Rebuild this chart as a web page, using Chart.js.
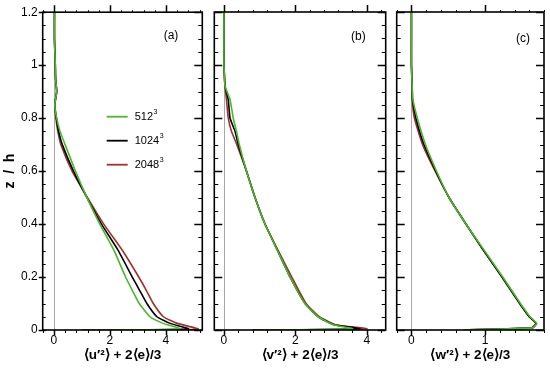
<!DOCTYPE html>
<html><head><meta charset="utf-8">
<script src="https://cdn.jsdelivr.net/npm/chart.js@4"></script>
<style>
html,body{margin:0;padding:0;background:#fff;}
#wrap{position:relative;width:550px;height:373px;overflow:hidden;}
canvas{position:absolute;top:0;}
</style></head><body>
<div id="wrap">
<canvas id="ca" width="210" height="373" style="left:0px;width:210px;height:373px"></canvas>
<canvas id="cb" width="185" height="373" style="left:205px;width:185px;height:373px"></canvas>
<canvas id="cc" width="160" height="373" style="left:390px;width:160px;height:373px"></canvas>
</div>
<script>
// ---- data ----
const seriesNames = ['512', '1024', '2048'];
const seriesColors = ['#48b82c', '#000000', '#a3302a'];
const yTicks = [0, 0.2, 0.4, 0.6, 0.8, 1, 1.2];
const xTicksU = [0, 2, 4];
const xTicksV = [0, 2, 4];
const xTicksW = [0, 1];

const zU = [0, 0.004, 0.025, 0.05, 0.1, 0.15, 0.2, 0.3, 0.4, 0.5, 0.6, 0.7, 0.75, 0.8, 0.85, 0.9, 0.95, 1.0, 1.1, 1.2];
const u512 = [1.0, 4.5, 3.9, 3.43, 3.05, 2.8, 2.56, 2.15, 1.64, 1.18, 0.77, 0.4, 0.22, 0.1, 0.03, 0.1, 0.06, 0.05, 0.02, 0.02];
const u1024 = [1.0, 4.8, 4.15, 3.68, 3.32, 3.06, 2.8, 2.3, 1.7, 1.18, 0.70, 0.3, 0.17, 0.09, 0.03, 0.1, 0.06, 0.05, 0.02, 0.02];
const u2048 = [1.0, 5.15, 4.4, 3.91, 3.55, 3.3, 3.03, 2.45, 1.78, 1.2, 0.65, 0.25, 0.14, 0.07, 0.03, 0.1, 0.06, 0.05, 0.02, 0.02];

const zV = [0, 0.005, 0.02, 0.05, 0.1, 0.2, 0.3, 0.4, 0.5, 0.6, 0.7, 0.75, 0.8, 0.87, 0.92, 0.97, 1.0, 1.1, 1.2];
const v512 = [0.8, 3.6, 3.06, 2.64, 2.27, 1.85, 1.5, 1.15, 0.87, 0.63, 0.43, 0.35, 0.26, 0.17, 0.03, 0.01, 0.0, 0.0, 0.0];
const v1024 = [0.8, 3.8, 3.08, 2.64, 2.27, 1.85, 1.5, 1.15, 0.87, 0.63, 0.40, 0.31, 0.17, 0.12, 0.03, 0.01, 0.0, 0.0, 0.0];
const v2048 = [0.8, 4.0, 3.12, 2.67, 2.3, 1.9, 1.52, 1.15, 0.87, 0.63, 0.36, 0.21, 0.12, 0.07, 0.03, 0.01, 0.0, 0.0, 0.0];

const zW = [0, 0.008, 0.025, 0.05, 0.1, 0.2, 0.3, 0.4, 0.5, 0.6, 0.7, 0.8, 0.87, 0.92, 1.0, 1.1, 1.2];
const w512 = [0.71, 1.64, 1.7, 1.61, 1.48, 1.24, 0.99, 0.74, 0.51, 0.34, 0.19, 0.08, 0.02, 0.01, 0.0, 0.0, 0.0];
const w1024 = [0.71, 1.63, 1.69, 1.60, 1.47, 1.23, 0.98, 0.74, 0.51, 0.33, 0.17, 0.06, 0.015, 0.01, 0.0, 0.0, 0.0];
const w2048 = [0.71, 1.65, 1.70, 1.60, 1.47, 1.23, 0.98, 0.74, 0.51, 0.32, 0.15, 0.04, 0.01, 0.01, 0.0, 0.0, 0.0];

// ---- helpers ----
const FONT = "'Liberation Sans', Arial, Helvetica, sans-serif";

const panelPlugin = {
  id: 'panel',
  beforeDatasetsDraw(chart) {
    const {ctx, chartArea: a, scales: {x}} = chart;
    const px = Math.round(x.getPixelForValue(0)) + 0.5;
    ctx.save();
    ctx.strokeStyle = '#a8a8a8'; ctx.lineWidth = 1;
    ctx.beginPath(); ctx.moveTo(px, a.top); ctx.lineTo(px, a.bottom); ctx.stroke();
    ctx.restore();
  },
  afterDraw(chart) {
    const o = chart.options.plugins.panel;
    const {ctx, chartArea: a, scales: {x, y}} = chart;
    ctx.save();
    ctx.strokeStyle = '#000';
    const xmin = x.min, xmax = x.max;
    const eps = 1e-6;
    for (let v = o.minorStart; v <= xmax + eps; v += o.minorStep) {
      const vv = Math.round(v * 1000) / 1000;
      if (vv < xmin - eps) continue;
      const isMajor = o.majors.some(m => Math.abs(m - vv) < eps);
      const p = Math.round(x.getPixelForValue(vv)) + 0.5;
      const lenB = isMajor ? 5 : 3, lenT = isMajor ? 7 : 2;
      ctx.lineWidth = isMajor ? 1.5 : 1;
      ctx.beginPath();
      ctx.moveTo(p, a.bottom); ctx.lineTo(p, a.bottom + lenB);
      ctx.moveTo(p, a.top); ctx.lineTo(p, a.top - lenT);
      ctx.stroke();
    }
    for (let i = 0; i <= 24; i++) {
      const v = i * 0.05;
      const isMajor = i % 4 === 0;
      const p = Math.round(y.getPixelForValue(v)) + 0.5;
      ctx.lineWidth = isMajor ? 1.5 : 1;
      ctx.beginPath();
      if (o.outerLeft) {
        if (isMajor) { ctx.moveTo(a.left - 4, p); ctx.lineTo(a.left + 3, p); }
        else { ctx.moveTo(a.left, p); ctx.lineTo(a.left + 3, p); }
      } else {
        ctx.moveTo(a.left, p); ctx.lineTo(a.left + (isMajor ? 8 : 4), p);
      }
      ctx.moveTo(a.right, p); ctx.lineTo(a.right - (isMajor ? 8 : 4), p);
      ctx.stroke();
    }
    ctx.lineWidth = 1.6;
    ctx.strokeRect(a.left, a.top, a.right - a.left, a.bottom - a.top);
    ctx.fillStyle = '#000';
    ctx.font = '12px ' + FONT;
    ctx.textAlign = 'right'; ctx.textBaseline = 'middle';
    ctx.fillText(o.label, a.right - o.labelDx, a.top + o.labelDy);
    if (o.legend) {
      chart.data.datasets.forEach((ds, i) => {
        const ly = a.top + 104 + i * 24;
        const lx = a.left + 64;
        ctx.strokeStyle = ds.borderColor; ctx.lineWidth = 1.8;
        ctx.beginPath(); ctx.moveTo(lx, ly + 0.5); ctx.lineTo(lx + 21, ly + 0.5); ctx.stroke();
        ctx.fillStyle = '#000';
        ctx.textAlign = 'left'; ctx.textBaseline = 'middle';
        ctx.font = '11px ' + FONT;
        ctx.fillText(ds.label, lx + 28, ly + 1);
        const w = ctx.measureText(ds.label).width;
        ctx.font = '7px ' + FONT;
        ctx.fillText('3', lx + 28 + w + 0.5, ly - 4);
      });
    }
    ctx.restore();
  }
};

function buildDatasets(zs, cols) {
  return cols.map((xs, i) => ({
    label: seriesNames[i],
    data: xs.map((xv, k) => ({x: xv, y: zs[k]})),
    borderColor: seriesColors[i],
    backgroundColor: seriesColors[i],
    borderWidth: 1.6,
    pointRadius: 0,
    showLine: true,
    tension: 0.15,
    fill: false
  }));
}

function makeChart(id, cfg) {
  return new Chart(document.getElementById(id), {
    type: 'scatter',
    data: {datasets: buildDatasets(cfg.z, cfg.cols)},
    plugins: [panelPlugin],
    options: {
      responsive: false,
      animation: false,
      events: [],
      layout: {padding: {left: cfg.padLeft, right: cfg.padRight, top: 12, bottom: 0}},
      plugins: {
        legend: {display: false},
        tooltip: {enabled: false},
        panel: {
          label: cfg.label, labelDx: cfg.labelDx, labelDy: cfg.labelDy,
          legend: cfg.legend, outerLeft: cfg.showY,
          minorStart: cfg.minorStart, minorStep: cfg.minorStep, majors: cfg.xTicks
        }
      },
      scales: {
        x: {
          type: 'linear', min: cfg.xMin, max: cfg.xMax,
          afterBuildTicks: s => { s.ticks = cfg.xTicks.map(v => ({value: v})); },
          afterFit: s => { s.height = 43; },
          grid: {display: false, drawTicks: false},
          border: {display: false},
          ticks: {color: '#000', padding: 3, font: {size: 12, family: FONT}, maxRotation: 0, autoSkip: false,
                  callback: v => String(v)},
          title: {display: true, text: cfg.title, color: '#000',
                  font: {size: 13.5, weight: 'bold', family: FONT}, padding: {top: 0, bottom: 10}}
        },
        y: {
          type: 'linear', min: 0, max: 1.2, display: cfg.showY,
          afterBuildTicks: s => { s.ticks = yTicks.map(v => ({value: v})); },
          afterFit: s => { s.width = cfg.showY ? 42.7 : 0; },
          grid: {display: false, drawTicks: false},
          border: {display: false},
          ticks: {color: '#000', padding: 5, font: {size: 12, family: FONT}, autoSkip: false,
                  callback: v => String(v)},
          title: {display: true, text: 'z  /  h', color: '#000',
                  font: {size: 14, weight: 'bold', family: FONT}, padding: {top: 2, bottom: 0}}
        }
      }
    }
  });
}

makeChart('ca', {
  z: zU, cols: [u512, u1024, u2048], xMin: -0.4, xMax: 5.3, xTicks: xTicksU,
  minorStart: -0.4, minorStep: 0.4, padLeft: 0, padRight: 7.7, showY: true,
  title: '\u27E8u\u2032\u00B2\u27E9 + 2\u27E8e\u27E9/3', label: '(a)', labelDx: 24, labelDy: 23, legend: true
});
makeChart('cb', {
  z: zV, cols: [v512, v1024, v2048], xMin: -0.27, xMax: 4.53, xTicks: xTicksV,
  minorStart: 0, minorStep: 0.4, padLeft: 9.3, padRight: 4.3, showY: false,
  title: '\u27E8v\u2032\u00B2\u27E9 + 2\u27E8e\u27E9/3', label: '(b)', labelDx: 20, labelDy: 25, legend: false
});
makeChart('cc', {
  z: zW, cols: [w512, w1024, w2048], xMin: -0.2, xMax: 1.8, xTicks: xTicksW,
  minorStart: -0.2, minorStep: 0.2, padLeft: 6.7, padRight: 6, showY: false,
  title: '\u27E8w\u2032\u00B2\u27E9 + 2\u27E8e\u27E9/3', label: '(c)', labelDx: 14, labelDy: 27, legend: false
});
</script>
</body></html>
